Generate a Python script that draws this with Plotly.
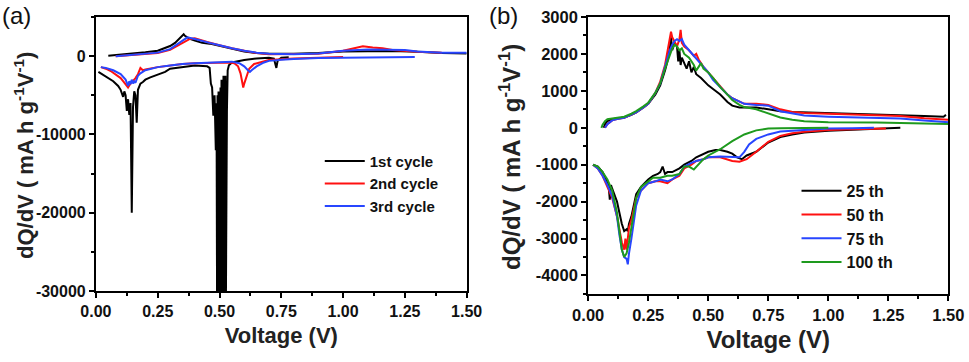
import plotly.graph_objects as go

# ---- panel (a): first three cycles ----
a_names = ["1st cycle", "2nd cycle", "3rd cycle"]

a1_dis_v = [0.01, 0.03, 0.05, 0.07, 0.09, 0.10, 0.11, 0.115, 0.12, 0.125, 0.13, 0.135, 0.14, 0.145, 0.15,
            0.155, 0.16, 0.165, 0.17, 0.18, 0.19, 0.20, 0.22, 0.25, 0.28, 0.30, 0.35, 0.40, 0.45, 0.46,
            0.465, 0.47, 0.475, 0.48, 0.485, 0.488, 0.49, 0.492, 0.494, 0.496, 0.498, 0.500, 0.502, 0.504,
            0.506, 0.508, 0.510, 0.512, 0.514, 0.516, 0.518, 0.520, 0.522, 0.524, 0.526, 0.528, 0.530,
            0.533, 0.538, 0.55, 0.60, 0.65, 0.70, 0.72, 0.73, 0.735, 0.75, 0.78]
a1_dis_q = [-2000, -2400, -2800, -3200, -3800, -4300, -5200, -4500, -5000, -7000, -5500, -7500, -6000, -20000, -6500,
            -4500, -5000, -8500, -4300, -3500, -3300, -3000, -2700, -2300, -2000, -1600, -1400, -1200, -1300, -1500,
            -3500, -4000, -7600, -5000, -12000, -6000, -30500, -5000, -30500, -4500, -30500, -6000, -30500, -4000,
            -30500, -3000, -30500, -3500, -30500, -2500, -30500, -3000, -30500, -2500, -30500, -12000, -7000,
            -1800, -1150, -800, -500, -300, -200, -300, -1500, -600, -200, -150]
a1_chg_v = [0.05, 0.10, 0.15, 0.20, 0.25, 0.28, 0.30, 0.32, 0.34, 0.355, 0.36, 0.37, 0.38, 0.40, 0.43, 0.46,
            0.50, 0.55, 0.60, 0.65, 0.70, 0.80, 0.90, 1.00, 1.10, 1.20, 1.30, 1.40, 1.50]
a1_chg_q = [50, 200, 300, 500, 700, 1000, 1300, 1700, 2300, 2800, 2600, 2400, 2200, 2000, 1700, 1600,
            1300, 900, 600, 400, 300, 300, 400, 600, 650, 650, 550, 400, 350]

a2_dis_v = [0.02, 0.04, 0.06, 0.08, 0.10, 0.11, 0.12, 0.13, 0.14, 0.15, 0.16, 0.17, 0.175, 0.18, 0.19, 0.20,
            0.25, 0.30, 0.35, 0.40, 0.45, 0.50, 0.54, 0.56, 0.575, 0.585, 0.59, 0.596, 0.60, 0.61, 0.62,
            0.64, 0.66, 0.70, 0.75, 0.80, 0.90, 1.00]
a2_dis_q = [-1400, -1600, -1900, -2300, -2800, -3200, -3600, -4000, -3500, -3200, -2800, -2300, -1900, -1500, -1800, -1700,
            -1400, -1200, -1000, -900, -850, -800, -800, -900, -1300, -2200, -3000, -4000, -3500, -2500, -1600,
            -1000, -800, -500, -400, -300, -200, -100]
a2_chg_v = [0.08, 0.15, 0.20, 0.25, 0.30, 0.33, 0.36, 0.38, 0.40, 0.42, 0.45, 0.50, 0.55, 0.60, 0.65, 0.70,
            0.80, 0.90, 1.00, 1.05, 1.08, 1.12, 1.16, 1.20, 1.30, 1.40]
a2_chg_q = [0, 150, 250, 400, 800, 1300, 1900, 2200, 2300, 2100, 1800, 1400, 1000, 700, 400, 250,
            250, 300, 700, 1000, 1250, 1100, 1000, 800, 550, 450]

a3_dis_v = [0.02, 0.04, 0.07, 0.10, 0.12, 0.13, 0.135, 0.14, 0.145, 0.15, 0.155, 0.16, 0.17, 0.18, 0.20, 0.25,
            0.30, 0.35, 0.40, 0.45, 0.50, 0.55, 0.58, 0.60, 0.615, 0.623, 0.63, 0.65, 0.68, 0.70, 0.75,
            0.80, 0.90, 1.00, 1.10, 1.20, 1.29]
a3_dis_q = [-1400, -1500, -1800, -2300, -3000, -3800, -3200, -3600, -3000, -3500, -3200, -3400, -2500, -2200, -1800, -1400,
            -1200, -1000, -900, -850, -800, -700, -900, -1300, -1800, -2000, -1800, -1300, -800, -600, -450,
            -350, -250, -200, -150, -100, -100]
a3_chg_v = [0.08, 0.15, 0.20, 0.25, 0.30, 0.33, 0.35, 0.37, 0.40, 0.43, 0.46, 0.50, 0.55, 0.60, 0.65, 0.70,
            0.80, 0.90, 1.00, 1.10, 1.20, 1.25, 1.30, 1.40, 1.50]
a3_chg_q = [0, 150, 250, 450, 900, 1500, 2000, 2400, 2200, 1900, 1700, 1400, 1000, 700, 450, 300,
            250, 350, 700, 850, 850, 800, 600, 450, 450]

a_yticks = [0, -10000, -20000, -30000]
a_yticklabels = ["0", "-10000", "-20000", "-30000"]

# ---- panel (b): later cycles ----
b_names = ["25 th", "50 th", "75 th", "100 th"]

b1_dis_v = [0.02, 0.04, 0.06, 0.07, 0.08, 0.085, 0.09, 0.095, 0.10, 0.11, 0.12, 0.13, 0.14, 0.15, 0.16, 0.165,
            0.17, 0.18, 0.19, 0.20, 0.22, 0.25, 0.27, 0.29, 0.30, 0.31, 0.32, 0.33, 0.35, 0.38, 0.40, 0.43,
            0.45, 0.48, 0.50, 0.53, 0.55, 0.58, 0.60, 0.62, 0.64, 0.66, 0.68, 0.70, 0.75, 0.80, 0.85, 0.90,
            1.00, 1.10, 1.20, 1.30]
b1_dis_q = [-1000, -1050, -1200, -1350, -1500, -1550, -1950, -1550, -1650, -1800, -2000, -2300, -2600, -2800, -2750, -2800,
            -2600, -2400, -2100, -1800, -1600, -1400, -1300, -1250, -1200, -1050, -1250, -1200, -1200, -1100, -1000, -900,
            -800, -700, -650, -600, -600, -650, -700, -800, -850, -750, -700, -650, -400, -250, -180, -130,
            -80, -50, -30, 0]
b1_chg_v = [0.065, 0.07, 0.08, 0.10, 0.12, 0.15, 0.18, 0.20, 0.23, 0.25, 0.28, 0.30, 0.32, 0.33, 0.34, 0.345,
            0.35, 0.36, 0.37, 0.375, 0.38, 0.385, 0.39, 0.40, 0.41, 0.42, 0.43, 0.44, 0.45, 0.47, 0.50, 0.52,
            0.55, 0.58, 0.60, 0.63, 0.65, 0.70, 0.75, 0.80, 0.85, 0.90, 1.00, 1.10, 1.20, 1.30, 1.40, 1.48, 1.49]
b1_chg_q = [0, 100, 180, 230, 250, 280, 350, 420, 550, 650, 900, 1150, 1550, 1800, 2150, 2450,
            2100, 2300, 2200, 1800, 2100, 1700, 1900, 1750, 1600, 1800, 1500, 1650, 1450, 1350, 1150, 1050,
            900, 700, 600, 550, 550, 550, 500, 450, 430, 420, 400, 390, 380, 350, 320, 300, 350]

b2_dis_v = [0.02, 0.04, 0.06, 0.08, 0.10, 0.12, 0.13, 0.14, 0.15, 0.155, 0.16, 0.165, 0.17, 0.18, 0.19, 0.20,
            0.22, 0.25, 0.28, 0.30, 0.33, 0.35, 0.38, 0.40, 0.43, 0.45, 0.48, 0.50, 0.55, 0.58, 0.60, 0.63,
            0.66, 0.70, 0.75, 0.80, 0.85, 0.90, 1.00, 1.10, 1.24]
b2_dis_q = [-1000, -1100, -1300, -1600, -1900, -2400, -2800, -3100, -3300, -3000, -3300, -2900, -2700, -2500, -2200, -1900,
            -1700, -1500, -1450, -1450, -1500, -1400, -1300, -1100, -1000, -900, -850, -800, -800, -850, -900, -920,
            -850, -650, -380, -220, -150, -110, -60, -40, -20]
b2_chg_v = [0.07, 0.08, 0.10, 0.12, 0.15, 0.18, 0.20, 0.23, 0.25, 0.28, 0.30, 0.32, 0.335, 0.345, 0.35, 0.36,
            0.37, 0.38, 0.385, 0.39, 0.40, 0.42, 0.44, 0.45, 0.46, 0.48, 0.50, 0.52, 0.55, 0.58, 0.60, 0.63,
            0.65, 0.70, 0.75, 0.80, 0.85, 0.90, 1.00, 1.10, 1.20, 1.30, 1.40, 1.50]
b2_chg_q = [0, 100, 200, 240, 270, 350, 420, 550, 650, 950, 1250, 1700, 2200, 2600, 2450, 2300,
            2200, 2400, 2650, 2300, 2200, 2100, 1950, 2000, 1850, 1650, 1500, 1350, 1100, 900, 800, 700,
            650, 650, 620, 500, 430, 400, 380, 370, 350, 320, 260, 220]

b3_dis_v = [0.02, 0.04, 0.06, 0.08, 0.10, 0.12, 0.13, 0.14, 0.15, 0.16, 0.165, 0.17, 0.18, 0.19, 0.20, 0.22,
            0.25, 0.28, 0.30, 0.33, 0.35, 0.38, 0.40, 0.43, 0.45, 0.48, 0.50, 0.55, 0.58, 0.60, 0.63, 0.65,
            0.67, 0.70, 0.75, 0.80, 0.90, 1.00, 1.10, 1.19]
b3_dis_q = [-1000, -1100, -1300, -1550, -1850, -2400, -2900, -3300, -3500, -3550, -3700, -3400, -3000, -2500, -2100, -1700,
            -1500, -1450, -1400, -1450, -1400, -1250, -1050, -950, -900, -850, -800, -780, -780, -800, -800, -650,
            -450, -300, -180, -100, -50, -20, -10, 0]
b3_chg_v = [0.07, 0.08, 0.10, 0.12, 0.15, 0.18, 0.20, 0.23, 0.25, 0.28, 0.30, 0.32, 0.34, 0.35, 0.36, 0.37,
            0.38, 0.39, 0.40, 0.42, 0.44, 0.46, 0.48, 0.50, 0.52, 0.55, 0.58, 0.60, 0.63, 0.65, 0.70, 0.75,
            0.80, 0.85, 0.90, 1.00, 1.10, 1.20, 1.30, 1.40, 1.50]
b3_chg_q = [0, 100, 200, 240, 270, 350, 420, 550, 650, 950, 1200, 1650, 2100, 2250, 2350, 2400,
            2350, 2400, 2250, 2100, 1950, 1800, 1650, 1500, 1300, 1100, 900, 800, 700, 650, 620, 600,
            450, 380, 330, 300, 290, 280, 250, 200, 150]

b4_dis_v = [0.02, 0.04, 0.06, 0.08, 0.10, 0.12, 0.13, 0.14, 0.15, 0.16, 0.17, 0.18, 0.19, 0.20, 0.22, 0.25,
            0.27, 0.30, 0.33, 0.35, 0.38, 0.40, 0.42, 0.44, 0.46, 0.48, 0.50, 0.55, 0.60, 0.65, 0.70, 0.75,
            0.80, 0.90, 1.00]
b4_dis_q = [-1000, -1050, -1200, -1400, -1700, -2300, -2800, -3300, -3500, -3400, -3100, -2700, -2300, -1900, -1600, -1450,
            -1350, -1350, -1300, -1300, -1250, -1050, -1050, -1130, -1000, -850, -750, -580, -360, -180, -70, -20,
            -10, 0, 0]
b4_chg_v = [0.055, 0.06, 0.07, 0.08, 0.10, 0.12, 0.15, 0.18, 0.20, 0.23, 0.25, 0.28, 0.30, 0.32, 0.34, 0.35,
            0.36, 0.37, 0.38, 0.39, 0.40, 0.42, 0.44, 0.45, 0.46, 0.47, 0.48, 0.49, 0.50, 0.52, 0.55, 0.58,
            0.60, 0.63, 0.65, 0.70, 0.75, 0.80, 0.85, 0.90, 1.00, 1.20, 1.50]
b4_chg_q = [0, 80, 180, 230, 250, 270, 300, 380, 450, 580, 680, 950, 1200, 1600, 2000, 2150,
            2250, 2200, 2100, 2150, 2000, 1900, 1700, 1550, 1650, 1750, 1600, 1550, 1500, 1350, 1100, 900,
            750, 620, 560, 500, 380, 280, 220, 180, 150, 140, 100]

b_yticks = [3000, 2000, 1000, 0, -1000, -2000, -3000, -4000]
b_yticklabels = ["3000", "2000", "1000", "0", "-1000", "-2000", "-3000", "-4000"]

x_ticks = [0, 0.25, 0.5, 0.75, 1.0, 1.25, 1.5]
x_ticklabels = ["0.00", "0.25", "0.50", "0.75", "1.00", "1.25", "1.50"]

a_curves = [(a1_dis_v, a1_dis_q, a1_chg_v, a1_chg_q),
            (a2_dis_v, a2_dis_q, a2_chg_v, a2_chg_q),
            (a3_dis_v, a3_dis_q, a3_chg_v, a3_chg_q)]
b_curves = [(b1_dis_v, b1_dis_q, b1_chg_v, b1_chg_q),
            (b2_dis_v, b2_dis_q, b2_chg_v, b2_chg_q),
            (b3_dis_v, b3_dis_q, b3_chg_v, b3_chg_q),
            (b4_dis_v, b4_dis_q, b4_chg_v, b4_chg_q)]

colors = ["#000000", "#ff1010", "#2846ff", "#1e9a1e"]
FONT = "Liberation Sans, Arial, sans-serif"

fig = go.Figure()

for i, (dv, dq, cv, cq) in enumerate(a_curves):
    fig.add_trace(go.Scatter(
        x=dv + [None] + cv, y=dq + [None] + cq, mode="lines", name=a_names[i],
        line=dict(color=colors[i], width=2), xaxis="x", yaxis="y", legend="legend"))

for i, (dv, dq, cv, cq) in enumerate(b_curves):
    fig.add_trace(go.Scatter(
        x=dv + [None] + cv, y=dq + [None] + cq, mode="lines", name=b_names[i],
        line=dict(color=colors[i], width=2), xaxis="x2", yaxis="y2", legend="legend2"))


def axis_style(size):
    return dict(showline=True, linecolor="black", linewidth=2, mirror=True, automargin=False,
                showgrid=False, zeroline=False, ticks="outside", ticklen=5,
                tickwidth=1.5, tickcolor="black",
                tickfont=dict(family=FONT, size=size, color="#111", weight="bold"))


ytitle = "dQ/dV ( mA h g<sup>-1</sup>V<sup>-1</sup>)"

fig.update_layout(
    width=969, height=362, margin=dict(l=0, r=0, t=0, b=0),
    plot_bgcolor="white", paper_bgcolor="white",
    xaxis=dict(domain=[0.099, 0.4816], range=[0, 1.5], tickvals=x_ticks, ticktext=x_ticklabels,
               minor=dict(dtick=0.125, ticks="outside", ticklen=3, tickcolor="black"),
               title=dict(text="Voltage (V)", standoff=8,
                          font=dict(family=FONT, size=22, color="#222", weight="bold")),
               anchor="y", **axis_style(16)),
    yaxis=dict(domain=[0.196, 0.953], range=[-30000, 5000], tickvals=a_yticks, ticktext=a_yticklabels,
               minor=dict(dtick=5000, ticks="outside", ticklen=3, tickcolor="black"),
               anchor="x", **axis_style(16)),
    xaxis2=dict(domain=[0.607, 0.9787], range=[0, 1.5], tickvals=x_ticks, ticktext=x_ticklabels,
                minor=dict(dtick=0.125, ticks="outside", ticklen=3, tickcolor="black"),
                title=dict(text="Voltage (V)", standoff=8,
                           font=dict(family=FONT, size=24, color="#222", weight="bold")),
                anchor="y2", **axis_style(16.5)),
    yaxis2=dict(domain=[0.188, 0.953], range=[-4500, 3000], tickvals=b_yticks, ticktext=b_yticklabels,
                minor=dict(dtick=500, ticks="outside", ticklen=3, tickcolor="black"),
                anchor="x2", **axis_style(16.5)),
    legend=dict(x=0.33, y=0.60, xanchor="left", yanchor="top", bgcolor="rgba(0,0,0,0)",
                itemwidth=40, tracegroupgap=0,
                font=dict(family=FONT, size=15, color="#111", weight="bold")),
    legend2=dict(x=0.822, y=0.52, xanchor="left", yanchor="top", bgcolor="rgba(0,0,0,0)",
                 itemwidth=40, tracegroupgap=0,
                 font=dict(family=FONT, size=16, color="#111", weight="bold")),
    annotations=[
        dict(text="(a)", x=0.0, y=1.0, xref="paper", yref="paper", xanchor="left", yanchor="top",
             showarrow=False, font=dict(family=FONT, size=24, color="#111")),
        dict(text="(b)", x=0.503, y=1.0, xref="paper", yref="paper", xanchor="left", yanchor="top",
             showarrow=False, font=dict(family=FONT, size=24, color="#111")),
        dict(text=ytitle, x=24 / 969, y=1 - 156 / 362, xref="paper", yref="paper",
             xanchor="center", yanchor="middle", textangle=-90, showarrow=False,
             font=dict(family=FONT, size=22, color="#222", weight="bold")),
        dict(text=ytitle, x=510 / 969, y=1 - 157 / 362, xref="paper", yref="paper",
             xanchor="center", yanchor="middle", textangle=-90, showarrow=False,
             font=dict(family=FONT, size=24, color="#222", weight="bold")),
    ],
)

fig.write_html("out.html", config={"displayModeBar": False},
               post_script="document.body.style.margin='0px';")
